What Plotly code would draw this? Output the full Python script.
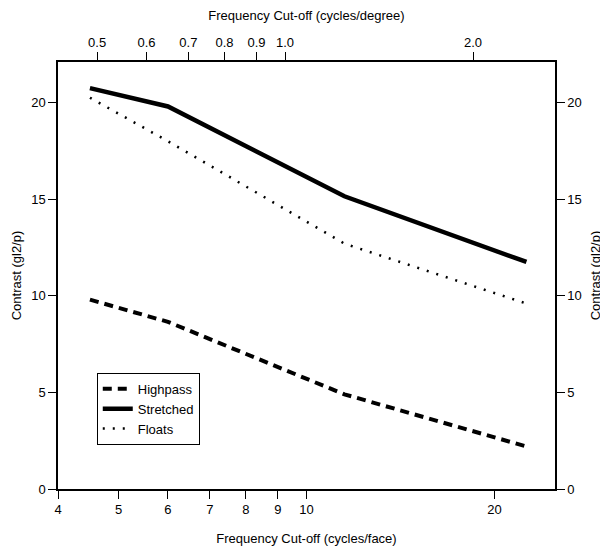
import math
import plotly.graph_objects as go

# ---- data ----
freq_face = [4.5, 6.0, 11.5, 22.5]          # cycles/face
highpass = [9.8, 8.65, 4.9, 2.2]
stretched = [20.75, 19.8, 15.15, 11.75]
floats = [20.25, 18.0, 12.7, 9.6]

x_ticks = [4, 5, 6, 7, 8, 9, 10, 20]
x_ticktext = ["4", "5", "6", "7", "8", "9", "10", "20"]
top_ticks = [0.5, 0.6, 0.7, 0.8, 0.9, 1.0, 2.0]
top_ticktext = ["0.5", "0.6", "0.7", "0.8", "0.9", "1.0", "2.0"]
y_ticks = [0, 5, 10, 15, 20]
face_per_degree = 9.24   # cycles/face per cycle/degree
x_min, x_max = 4.0, 25.0
y_min, y_max = 0.0, 22.1

FONT = "Liberation Sans, Arial, Helvetica, sans-serif"
FS = 13

fig = go.Figure()
fig.add_trace(go.Scatter(x=freq_face, y=highpass, name="Highpass", mode="lines",
                         line=dict(color="black", width=4, dash="9px,6px")))
fig.add_trace(go.Scatter(x=freq_face, y=stretched, name="Stretched", mode="lines",
                         line=dict(color="black", width=4.5)))
fig.add_trace(go.Scatter(x=freq_face, y=floats, name="Floats", mode="lines",
                         line=dict(color="black", width=2.5, dash="2px,8px")))
# invisible trace to activate top/right axes
fig.add_trace(go.Scatter(x=[f / face_per_degree for f in freq_face], y=stretched,
                         xaxis="x2", yaxis="y2", mode="lines", opacity=0,
                         showlegend=False, hoverinfo="skip"))

axis_common = dict(showgrid=False, zeroline=False, showline=True, linecolor="black",
                   linewidth=1.5, ticks="outside", ticklen=8, tickwidth=1.2,
                   tickcolor="black", automargin=False,
                   tickfont=dict(size=FS, color="black", family=FONT))

# page body adds an 8px offset, so the figure is 8px smaller than the window
fig.update_layout(
    width=600, height=538,
    margin=dict(l=50, r=53, t=54, b=57),
    paper_bgcolor="white", plot_bgcolor="white",
    font=dict(family=FONT, size=FS, color="black"),
    xaxis=dict(type="log", range=[math.log10(x_min), math.log10(x_max)],
               tickmode="array", tickvals=x_ticks, ticktext=x_ticktext,
               title=dict(text="Frequency Cut-off (cycles/face)", standoff=19,
                          font=dict(size=FS)),
               **axis_common),
    xaxis2=dict(type="log", overlaying="x", side="top",
                range=[math.log10(x_min / face_per_degree), math.log10(x_max / face_per_degree)],
                tickmode="array", tickvals=top_ticks, ticktext=top_ticktext,
                title=dict(text="Frequency Cut-off (cycles/degree)", standoff=14,
                           font=dict(size=FS)),
                **axis_common),
    yaxis=dict(range=[y_min, y_max], tickmode="array", tickvals=y_ticks,
               title=dict(text="Contrast (gl2/p)", standoff=7, font=dict(size=FS)),
               **axis_common),
    yaxis2=dict(range=[y_min, y_max], overlaying="y", side="right", tickmode="array",
                tickvals=y_ticks,
                title=dict(text="Contrast (gl2/p)", standoff=10, font=dict(size=FS)),
                **axis_common),
    legend=dict(x=0.078, y=0.272, xanchor="left", yanchor="top",
                bordercolor="black", borderwidth=1, bgcolor="white",
                font=dict(size=FS, family=FONT), tracegroupgap=0),
    showlegend=True,
)

fig.write_html("out.html")
